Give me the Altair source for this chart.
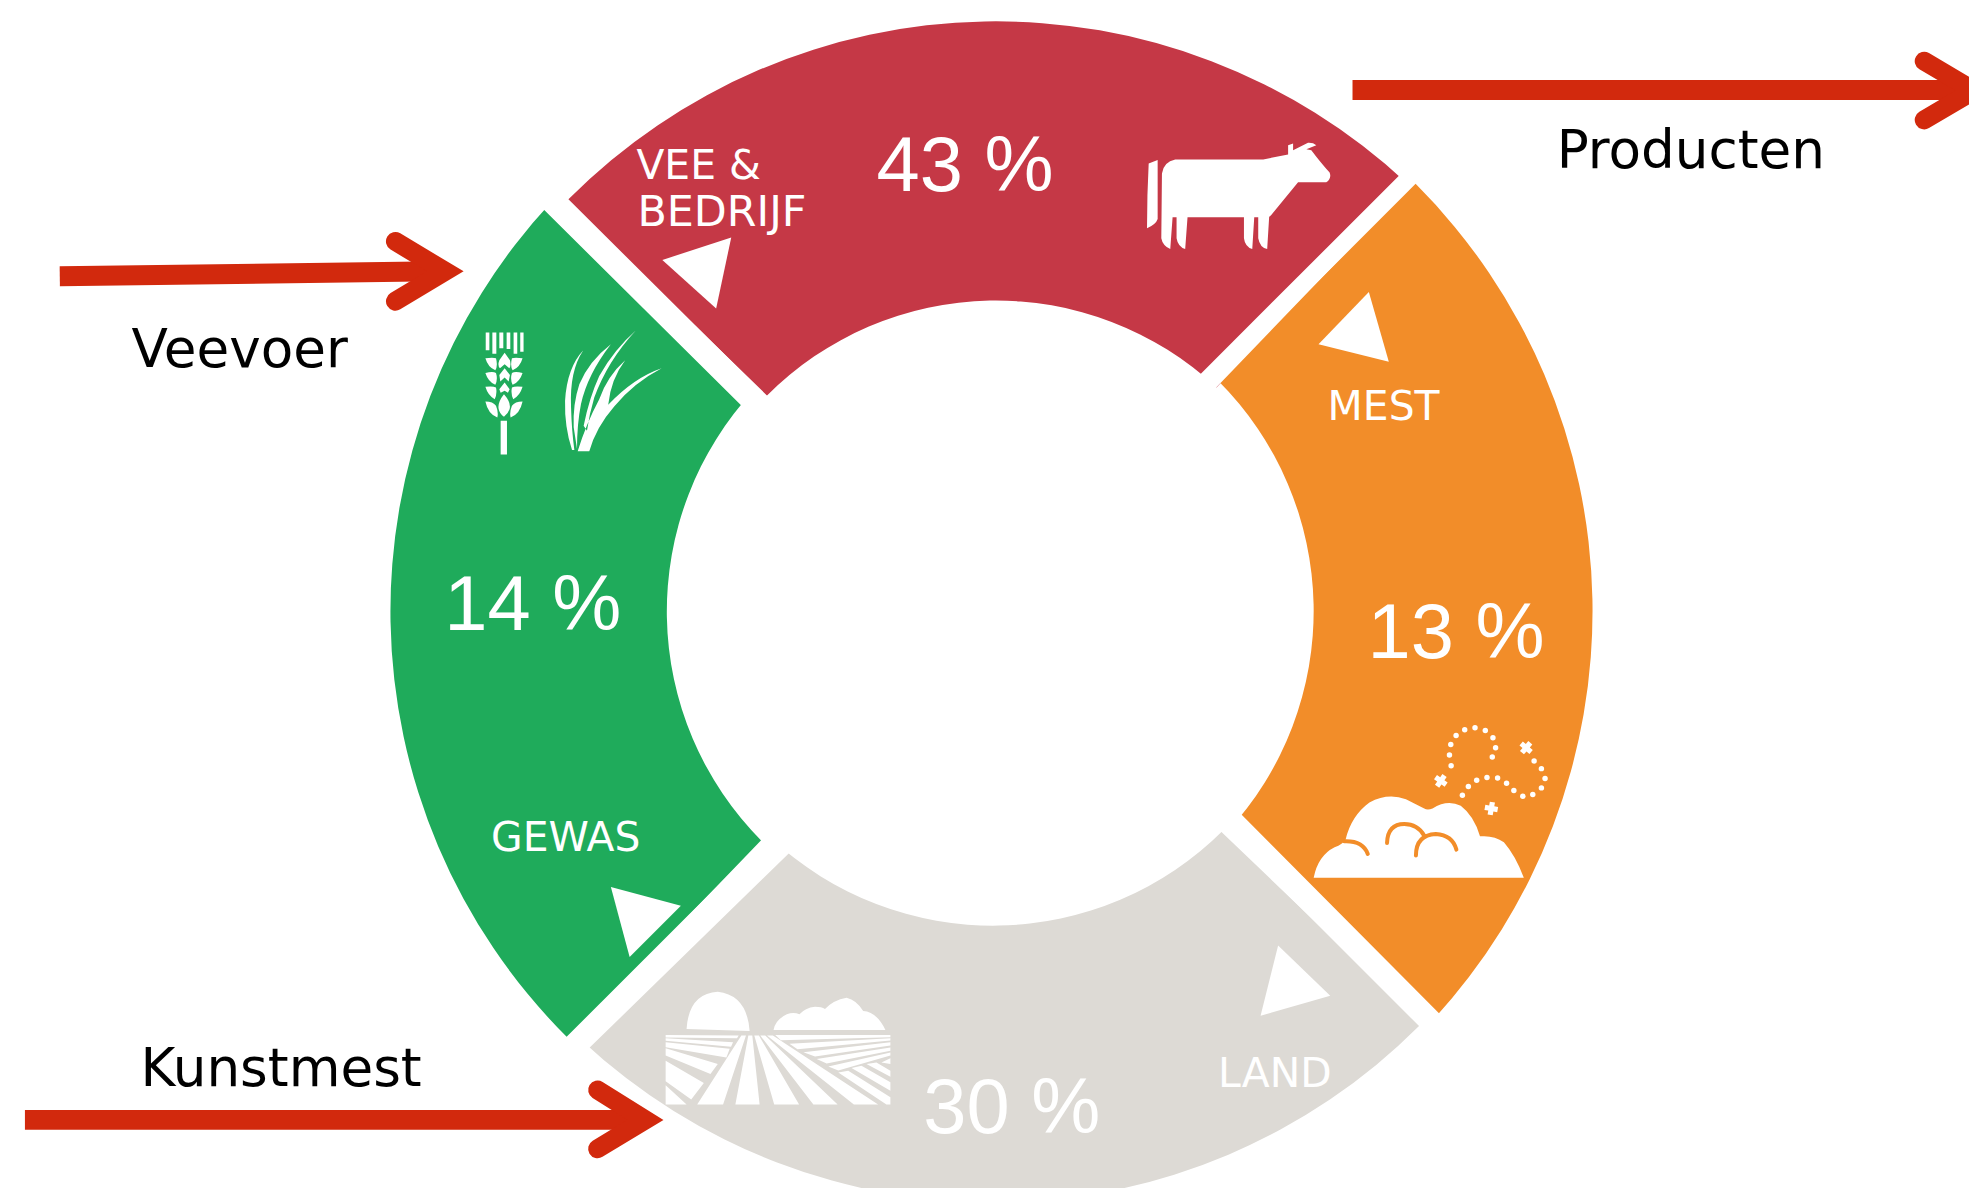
import re
import altair as alt
import pandas as pd

S = 1977 / 1568
W, H = 1977, 1196

# ---------- sectors ----------
sector_names = ["VEE & BEDRIJF", "MEST", "LAND", "GEWAS"]
sector_colors = ["#c53846", "#f28d29", "#dddad5", "#1fab5b"]
sector_cx = [1000, 992.5, 997, 996]
sector_cy = [624, 611, 600, 611.5]
sector_start = [-45.2, 45.0, 135.0, 225.0]
sector_end = [43.0, 132.8, 223.0, 313.0]
sector_outer = [605, 606.5, 605, 604]
sector_inner = [324.7, 326.5, 327, 326.5]

# white gaps between sectors: inner mid, outer mid, widths (picture units of the shrunk view)
gap_inner = [(964, 299.5), (981, 654), (617, 672.5), (600.5, 317)]
gap_outer = [(1119.5, 141), (1139.5, 809.5), (461.5, 829), (442, 161.5)]
gap_w_inner = [16.3, 21, 23, 20]
gap_w_outer = [12, 15.5, 16, 17.6]

# ---------- text ----------
pct_text = ["43 %", "14 %", "13 %", "30 %"]
pct_x = [880, 446, 1373, 927]
pct_y = [189, 630, 658, 1135]
lab_text = ["VEE &", "BEDRIJF", "MEST", "GEWAS", "LAND"]
lab_x = [639, 640, 1333, 493, 1223]
lab_y = [177, 224, 419, 852, 1089]
lab_size = [41, 43, 41, 41, 41]
ext_text = ["Producten", "Veevoer", "Kunstmest"]
ext_x = [1563, 132, 141]
ext_y = [166, 366, 1088]

# ---------- arrows ----------
shaft_x = [[1358, 1965], [60, 440], [25, 640]]
shaft_y = [[88, 88], [275, 270], [1122, 1122]]
head_x = [[1932, 1982, 1932], [397, 447, 397], [600, 648, 600]]
head_y = [[59, 88.5, 118], [240, 270, 300], [1092, 1122, 1151]]

# ---------- pointers ----------
tri_x = [560 * S, 1082 * S, 510 * S, 1027 * S]
tri_y = [212 * S, 263 * S, 728 * S, 783 * S]
tri_angle = [42, 14, 75, -16]
TRI = "M0 -1 L0.866 0.5 L-0.866 0.5 Z"

# ---------- icons (crop-space outlines) ----------
cow = """M200 215 Q205 180 240 173 L505 173 L580 158 L580 130 L595 125 L595 145 L640 123 Q655 122 665 130
L635 142 L650 145 Q680 185 705 212 Q712 230 695 242 L610 242 L525 345 L523 345 L517 443 Q495 438 490 410
L490 347 L478 347 L472 443 Q450 435 447 410 L447 347 L277 347 L270 443 Q248 435 244 410 L244 347 L232 347
L225 443 Q202 432 198 410 Z M160 185 L187 175 L187 352 Q182 368 155 380 Q155 280 160 185 Z"""

wheat = """M128 330 L147 330 L147 432 L128 432 Z
M83 64 L94 64 L94 118 L83 118 Z M103 64 L115 64 L115 128 L103 128 Z M124 64 L136 64 L136 112 L124 112 Z
M146 64 L157 64 L157 114 L146 114 Z M167 64 L178 64 L178 128 L167 128 Z M187 64 L197 64 L197 122 L187 122 Z
M82 142 Q105 138 114 142 Q120 165 112 178 Q90 170 82 142 Z
M82 186 Q105 180 114 186 Q120 205 112 222 Q90 212 82 186 Z
M82 228 Q105 225 114 230 Q118 250 110 265 Q90 255 82 228 Z
M82 272 Q105 272 114 285 Q122 305 118 320 Q90 310 82 272 Z
M194 142 Q171 138 162 142 Q156 165 164 178 Q186 170 194 142 Z
M194 186 Q171 180 162 186 Q156 205 164 222 Q186 212 194 186 Z
M194 228 Q171 225 162 230 Q158 250 166 265 Q186 255 194 228 Z
M194 272 Q171 272 162 285 Q154 305 158 320 Q186 310 194 272 Z
M140 125 L156 148 Q160 165 154 172 L140 160 L126 172 Q118 165 124 148 Z
M140 172 L156 192 L152 212 L140 200 L127 212 L124 192 Z
M140 215 L155 235 L150 246 L140 240 L128 246 L124 235 Z
M138 250 Q160 275 155 295 Q150 310 138 318 Q125 310 122 295 Q118 275 138 250 Z"""

grass = """M377 118 Q335 180 340 290 Q342 360 350 418 L343 418 Q320 350 322 270 Q328 170 377 118 Z
M460 100 Q390 190 370 280 Q358 340 358 415 L348 350 Q345 280 365 220 Q395 150 460 100 Z
M535 58 Q450 150 410 260 Q395 310 388 360 L378 345 Q395 260 425 195 Q470 115 535 58 Z
M360 422 L395 422 Q415 350 470 287 Q530 215 613 172 Q530 200 452 282 Q460 205 503 148 Q450 195 425 265 Q385 340 360 422 Z"""

pile = """M57 507 Q70 440 120 415 Q145 405 153 392 Q170 320 225 280 Q280 250 335 270 L390 298 Q400 304 415 298
Q460 270 500 290 Q540 320 558 382 Q600 378 630 400 Q665 440 690 507 Z"""
pile_lines = """M150 397 Q205 395 220 435 M278 402 Q280 345 330 345 Q370 345 390 380
M365 440 Q365 378 425 375 Q475 378 487 422"""
dots_x = [505, 523, 548, 579, 611, 638, 660, 687, 717, 743, 754, 743, 721,
          595, 605, 597, 574, 543, 512, 486, 470, 466, 471]
dots_y = [258, 232, 213, 205, 206, 222, 244, 261, 256, 236, 208, 178, 155,
          143, 115, 85, 63, 55, 61, 78, 105, 137, 169]
fly_x = [697, 440, 592]
fly_y = [115, 215, 298]
fly_angle = [40, 35, 10]

field = """M118 152 Q125 45 212 40 Q300 50 308 158 Z
M380 155 Q385 125 420 108 Q440 100 458 108 Q475 88 505 85 Q525 85 535 92 Q560 65 600 58 Q630 65 650 98 Q690 100 717 155 Z
M55 170 L275 172 L270 180 L55 178 Z M55 180 L258 192 L252 206 L55 188 Z M55 192 L248 212 L238 238 L55 207 Z
M55 210 L212 258 L190 288 L55 232 Z M55 248 L170 315 L132 365 L55 310 Z M55 322 L118 380 L55 380 Z
M283 172 L297 172 L228 380 L150 380 Z M304 172 L316 172 L338 380 L265 380 Z M322 172 L336 172 L457 380 L382 380 Z
M340 172 L355 172 L573 380 L500 380 Z M360 172 L378 172 L695 380 L622 380 Z
M385 170 L732 170 L732 177 L402 186 Z M428 197 L732 180 L732 187 L452 213 Z M470 222 L732 192 L732 202 L505 235 Z
M510 243 L732 208 L732 218 L540 256 Z M545 265 L732 223 L732 232 L575 277 Z M705 253 L732 240 L732 258 Z
M660 258 L690 253 L732 278 L732 296 Z M615 270 L645 263 L732 313 L732 338 Z M575 283 L605 278 L732 358 L732 380 L720 380 Z"""

# crop each icon outline was read in: left, top, width, height
CROP_COW = (1100, 100, 300, 180)
CROP_GREEN = (460, 310, 230, 160)
CROP_PILE = (1300, 710, 280, 190)
CROP_FIELD = (650, 980, 260, 150)


def icon(path, crop):
    ox, oy, w, h = crop
    half = max(w, h) * 3 / 2
    cx3, cy3 = w * 3 / 2, h * 3 / 2

    def conv(m):
        x, y = float(m.group(1)), float(m.group(2))
        return f"{(x - cx3) / half:.4f} {(y - cy3) / half:.4f}"

    norm = re.sub(r"(-?\d+\.?\d*) (-?\d+\.?\d*)", conv, " ".join(path.split()))
    return {"path": norm, "x": ox + w / 2, "y": oy + h / 2, "size": (max(w, h)) ** 2}


xs = alt.Scale(domain=[8, W], range=[0, W - 8], nice=False, zero=False)
ys = alt.Scale(domain=[8, H - 8], range=[0, H - 16], nice=False, zero=False)
X = alt.X("x:Q", scale=xs, axis=None)
Y = alt.Y("y:Q", scale=ys, axis=None)

# sectors
df_sec = pd.DataFrame({
    "name": sector_names, "c": sector_colors, "x": sector_cx, "y": sector_cy,
    "a": sector_start, "b": sector_end, "r": sector_outer, "r2": sector_inner,
})
arcs = alt.Chart(df_sec).mark_arc(strokeWidth=0).encode(
    x=X, y=Y,
    theta=alt.Theta("a:Q", scale=alt.Scale(domain=[0, 360], range=[0, 6.283185307])),
    theta2=alt.Theta2("b:Q"),
    radius=alt.Radius("r:Q", scale=None),
    radius2=alt.Radius2("r2:Q"),
    color=alt.Color("c:N", scale=None),
)

# gaps
rows = []
for g, (p, q, wi, wo) in enumerate(zip(gap_inner, gap_outer, gap_w_inner, gap_w_outer)):
    for t in (-0.25, 1.25):
        rows.append({
            "g": g, "i": t,
            "x": (p[0] + (q[0] - p[0]) * t) * S,
            "y": (p[1] + (q[1] - p[1]) * t) * S,
            "w": (wi + (wo - wi) * t) * S,
        })
gaps = alt.Chart(pd.DataFrame(rows)).mark_trail(color="white", opacity=1).encode(
    x=X, y=Y, size=alt.Size("w:Q", scale=None), detail="g:N", order="i:Q",
)

# arrows
RED = "#d2290d"
rows = [{"a": a, "i": i, "x": vx, "y": vy}
        for a, (xx, yy) in enumerate(zip(shaft_x, shaft_y)) for i, (vx, vy) in enumerate(zip(xx, yy))]
shafts = alt.Chart(pd.DataFrame(rows)).mark_line(color=RED, strokeWidth=20, strokeCap="butt").encode(
    x=X, y=Y, detail="a:N", order="i:Q")
rows = [{"a": a, "i": i, "x": vx, "y": vy}
        for a, (xx, yy) in enumerate(zip(head_x, head_y)) for i, (vx, vy) in enumerate(zip(xx, yy))]
heads = alt.Chart(pd.DataFrame(rows)).mark_line(
    color=RED, strokeWidth=19, strokeCap="round", strokeJoin="miter").encode(
    x=X, y=Y, detail="a:N", order="i:Q")

# text
def text_layer(txt, xx, yy, sizes, font, color):
    df = pd.DataFrame({"t": txt, "x": xx, "y": yy, "s": sizes})
    return alt.Chart(df).mark_text(font=font, align="left", baseline="alphabetic", color=color).encode(
        x=X, y=Y, text="t:N", size=alt.Size("s:Q", scale=None))

pct = text_layer(pct_text, pct_x, pct_y, [78] * 4, "Liberation Sans", "white")
lab = text_layer(lab_text, lab_x, lab_y, lab_size, "DejaVu Sans", "white")
ext = text_layer(ext_text, ext_x, ext_y, [53.4] * 3, "DejaVu Sans", "black")

# triangles
tris = alt.Chart(pd.DataFrame({"x": tri_x, "y": tri_y, "a": tri_angle})).mark_point(
    shape=TRI, filled=True, fill="white", opacity=1, strokeWidth=0, size=7056
).encode(x=X, y=Y, angle=alt.Angle("a:Q", scale=None))

# icons
df_icons = pd.DataFrame([
    icon(cow, CROP_COW), icon(wheat, CROP_GREEN), icon(grass, CROP_GREEN),
    icon(pile, CROP_PILE), icon(field, CROP_FIELD),
])
icons = alt.Chart(df_icons).mark_point(filled=True, fill="white", opacity=1, strokeWidth=0).encode(
    x=X, y=Y, shape=alt.Shape("path:N", scale=None), size=alt.Size("size:Q", scale=None))
df_pl = pd.DataFrame([icon(pile_lines, CROP_PILE)])
pile_marks = alt.Chart(df_pl).mark_point(
    filled=False, fill=None, stroke="#f28d29", strokeWidth=4, opacity=1, strokeCap="round"
).encode(x=X, y=Y, shape=alt.Shape("path:N", scale=None), size=alt.Size("size:Q", scale=None))

df_dots = pd.DataFrame({"x": [CROP_PILE[0] + v / 3 for v in dots_x],
                        "y": [CROP_PILE[1] + v / 3 for v in dots_y]})
dots = alt.Chart(df_dots).mark_circle(color="white", opacity=1, size=30).encode(x=X, y=Y)
df_fly = pd.DataFrame({"x": [CROP_PILE[0] + v / 3 for v in fly_x],
                       "y": [CROP_PILE[1] + v / 3 for v in fly_y], "a": fly_angle})
flies = alt.Chart(df_fly).mark_point(shape="cross", filled=True, fill="white", opacity=1,
                                     strokeWidth=0, size=170).encode(
    x=X, y=Y, angle=alt.Angle("a:Q", scale=None))

chart = alt.layer(
    arcs, gaps, shafts, heads, tris, icons, pile_marks, dots, flies, pct, lab, ext
).properties(
    width=W - 8, height=H - 16, padding=0, background="white",
    autosize=alt.AutoSizeParams(type="none"),
).configure_view(stroke=None)

chart.save("out.html", embed_options={"renderer": "svg", "actions": False})
